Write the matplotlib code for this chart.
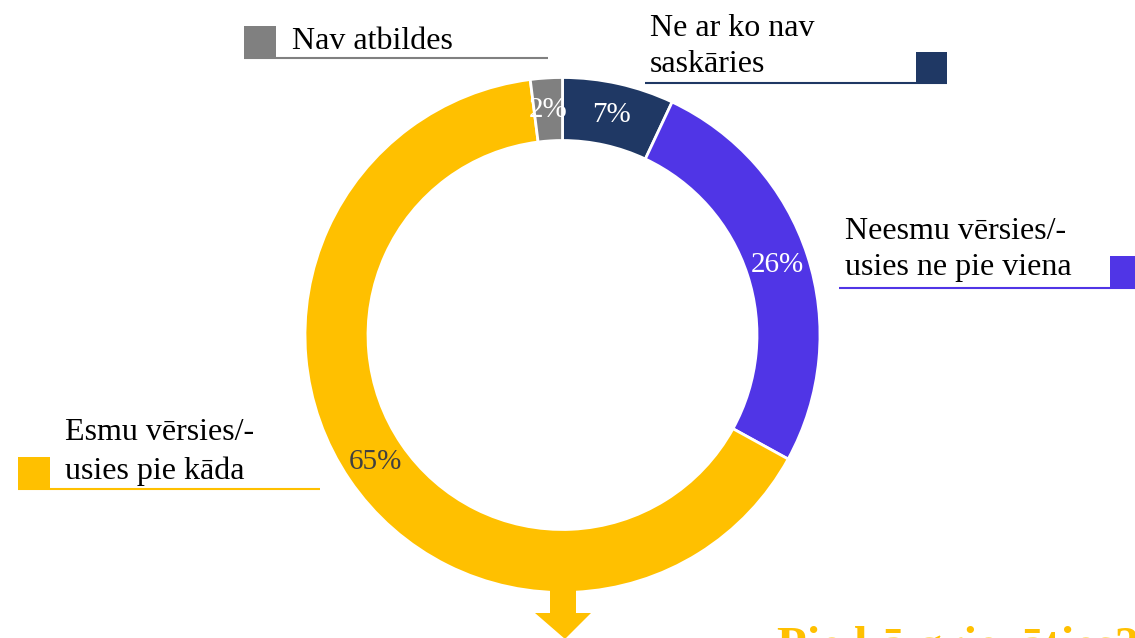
import matplotlib.pyplot as plt
from matplotlib.patches import Polygon, Rectangle

# data
labels = ['Ne ar ko nav\nsaskāries', 'Neesmu vērsies/-\nusies ne pie viena',
          'Esmu vērsies/-\nusies pie kāda', 'Nav atbildes']
values = [7, 26, 65, 2]
colors = ['#1F3864', '#5035E6', '#FFC000', '#808080']
pct_colors = ['white', 'white', '#404040', 'white']
question = 'Pie kā griezāties?'

W, H = 1135, 638
plt.rcParams['font.family'] = ['Liberation Serif', 'DejaVu Serif']

fig = plt.figure(figsize=(W / 100, H / 100), dpi=100)
ax = fig.add_axes([0, 0, 1, 1])


def Y(y):
    # pixel row (from top) -> data y
    return H - y


wedges, texts, autotexts = ax.pie(
    values, colors=colors, startangle=90, counterclock=False,
    radius=257.5, center=(562.5, Y(335)),
    autopct='%.0f%%', pctdistance=0.877,
    wedgeprops=dict(width=63, edgecolor='white', linewidth=2),
    textprops=dict(fontsize=21))
for t, c in zip(autotexts, pct_colors):
    t.set_color(c)

ax.set_xlim(0, W)
ax.set_ylim(0, H)
ax.set_aspect('equal')
ax.axis('off')

# label boxes: (text x, last baseline y, line spacing, square x0, x1, square top,
#               underline x0, x1, underline y)
boxes = [
    (650, 72, 1.3, 916, 947, 52, 645, 947, 83),
    (845, 275, 1.3, 1110, 1141, 256, 839, 1135, 288),
    (65, 479, 1.4, 18, 50, 457, 18, 320, 489),
    (292, 49, 1.3, 244, 276, 26, 244, 548, 57.5),
]
for (tx, ty, ls, sx0, sx1, sy, ux0, ux1, uy), lab, col in zip(boxes, labels, colors):
    ax.text(tx, Y(ty), lab, fontsize=23, color='black', ha='left',
            va='baseline', linespacing=ls)
    ax.add_patch(Rectangle((sx0, Y(uy)), sx1 - sx0, uy - sy, color=col, lw=0))
    ax.plot([ux0, ux1], [Y(uy), Y(uy)], color=col, lw=1.5, solid_capstyle='butt')

# arrow under the donut
arrow = [(550, 588), (576, 588), (576, 613), (591, 613), (565, 639),
         (535, 613), (550, 613)]
ax.add_patch(Polygon([(x, Y(y)) for x, y in arrow], closed=True,
                     color='#FFC000', lw=0))

# question below, cut off by the bottom edge as in the slide
ax.text(777, Y(660), question, fontsize=35, fontweight='bold',
        color='#FFC000', ha='left', va='baseline')

fig.savefig('out.png', dpi=100)
